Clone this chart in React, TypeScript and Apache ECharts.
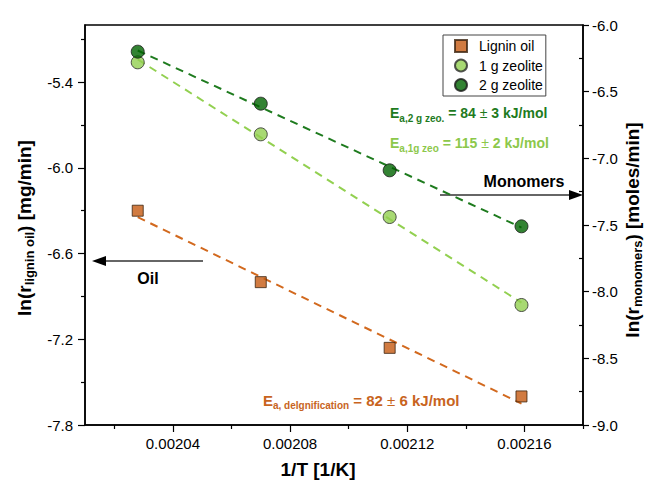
import React, { useEffect, useRef } from 'react';
import * as echarts from 'echarts';

// ---- data ----
const invT = [0.002028, 0.00207, 0.002114, 0.002159];
const ligninOil = [-6.3, -6.8, -7.26, -7.6];
const zeolite1g = [-6.28, -6.82, -7.44, -8.1];
const zeolite2g = [-6.2, -6.59, -7.09, -7.51];

const seriesNames = ['Lignin oil', '1 g zeolite', '2 g zeolite'];

const xMajorTicks = [0.00204, 0.00208, 0.00212, 0.00216];
const xMinorTicks = [0.00202, 0.00206, 0.0021, 0.00214, 0.00218];
const leftMajorTicks = [-7.8, -7.2, -6.6, -6.0, -5.4];
const leftMinorTicks = [-7.5, -6.9, -6.3, -5.7, -5.1];
const rightMajorTicks = [-9, -8.5, -8, -7.5, -7, -6.5, -6];
const rightMinorTicks = [-8.75, -8.25, -7.75, -7.25, -6.75, -6.25];

const FONT = 'Liberation Sans, Arial, sans-serif';

// least-squares fit line between first and last x
function fitLine(xs: number[], ys: number[]): number[][] {
  const n = xs.length;
  const mx = xs.reduce((a, b) => a + b, 0) / n;
  const my = ys.reduce((a, b) => a + b, 0) / n;
  let sxy = 0;
  let sxx = 0;
  for (let i = 0; i < n; i++) {
    sxy += (xs[i] - mx) * (ys[i] - my);
    sxx += (xs[i] - mx) * (xs[i] - mx);
  }
  const b = sxy / sxx;
  const a = my - b * mx;
  return [
    [xs[0], a + b * xs[0]],
    [xs[n - 1], a + b * xs[n - 1]],
  ];
}

const pairs = (ys: number[]) => invT.map((x, i) => [x, ys[i]]);

const axisLineStyle = { color: '#000', width: 1.5 };

function buildOption(): any {
  const mkX = (ticks: number[], main: boolean, len: number) => ({
    type: 'value',
    min: 0.00201,
    max: 0.00218,
    position: 'bottom',
    axisLine: { show: main, onZero: false, lineStyle: axisLineStyle },
    axisTick: { show: true, customValues: ticks, length: len, lineStyle: { color: '#000', width: 1.2 } },
    axisLabel: main
      ? {
          show: true,
          customValues: ticks,
          formatter: (v: number) => v.toFixed(5),
          fontSize: 15,
          fontFamily: FONT,
          color: '#000',
          margin: 11,
        }
      : { show: false },
    splitLine: { show: false },
  });
  const mkY = (
    pos: string,
    min: number,
    max: number,
    ticks: number[],
    main: boolean,
    len: number,
    inside: boolean,
    margin: number
  ) => ({
    type: 'value',
    position: pos,
    min,
    max,
    axisLine: { show: main, onZero: false, lineStyle: axisLineStyle },
    axisTick: { show: true, inside, customValues: ticks, length: len, lineStyle: { color: '#000', width: 1.2 } },
    axisLabel: main
      ? {
          show: true,
          customValues: ticks,
          formatter: (v: number) => v.toFixed(1),
          fontSize: 15,
          fontFamily: FONT,
          color: '#000',
          margin,
        }
      : { show: false },
    splitLine: { show: false },
  });

  const dash = [8, 6];

  const sub = (color: string, mainSize: number, subSize: number) => ({
    m: { fontSize: mainSize, fontWeight: 'bold', fontFamily: FONT, fill: color, lineHeight: 20, verticalAlign: 'middle' },
    s: { fontSize: subSize, fontWeight: 'bold', fontFamily: FONT, fill: color, lineHeight: 10, verticalAlign: 'bottom' },
    p: { fontSize: mainSize, fontWeight: 'normal', fontFamily: FONT, fill: color, lineHeight: 20, verticalAlign: 'middle' },
  });

  return {
    animation: false,
    backgroundColor: '#fff',
    grid: { left: 85, right: 66, top: 25, bottom: 61, show: true, borderColor: '#000', borderWidth: 1.5 },
    legend: {
      orient: 'vertical',
      left: 443,
      top: 35,
      data: [
        { name: seriesNames[0], icon: 'rect' },
        { name: seriesNames[1], icon: 'circle' },
        { name: seriesNames[2], icon: 'circle' },
      ],
      itemWidth: 12,
      itemHeight: 12,
      itemGap: 5.5,
      padding: [4, 3, 4, 11],
      borderColor: '#444',
      borderWidth: 1,
      backgroundColor: '#fff',
      textStyle: { fontSize: 14, fontFamily: FONT, color: '#000', padding: [0, 0, 0, 7] },
    },
    xAxis: [mkX(xMajorTicks, true, 7), mkX(xMinorTicks, false, 4)],
    yAxis: [
      mkY('left', -7.8, -5.0, leftMajorTicks, true, 7, false, 12),
      mkY('right', -9, -6, rightMajorTicks, true, 6, false, 9),
      mkY('left', -7.8, -5.0, leftMinorTicks, false, 4, false, 0),
      mkY('right', -9, -6, rightMinorTicks, false, 4, true, 0),
    ],
    series: [
      {
        type: 'line',
        name: 'fit lignin',
        xAxisIndex: 0,
        yAxisIndex: 0,
        data: fitLine(invT, ligninOil),
        showSymbol: false,
        silent: true,
        z: 1,
        lineStyle: { color: '#D2691E', width: 2, type: dash },
      },
      {
        type: 'line',
        name: 'fit 1g',
        xAxisIndex: 0,
        yAxisIndex: 1,
        data: fitLine(invT, zeolite1g),
        showSymbol: false,
        silent: true,
        z: 1,
        lineStyle: { color: '#92D050', width: 2, type: dash },
      },
      {
        type: 'line',
        name: 'fit 2g',
        xAxisIndex: 0,
        yAxisIndex: 1,
        data: fitLine(invT, zeolite2g),
        showSymbol: false,
        silent: true,
        z: 1,
        lineStyle: { color: '#1E7B1E', width: 2, type: dash },
      },
      {
        type: 'scatter',
        name: seriesNames[0],
        xAxisIndex: 0,
        yAxisIndex: 0,
        data: pairs(ligninOil),
        symbol: 'rect',
        symbolSize: 11,
        z: 3,
        itemStyle: { color: '#C55A11', borderColor: '#3b2410', borderWidth: 1 },
      },
      {
        type: 'scatter',
        name: seriesNames[1],
        xAxisIndex: 0,
        yAxisIndex: 1,
        data: pairs(zeolite1g),
        symbol: 'circle',
        symbolSize: 13,
        z: 3,
        itemStyle: { color: '#92D050', borderColor: '#2a2a2a', borderWidth: 1 },
      },
      {
        type: 'scatter',
        name: seriesNames[2],
        xAxisIndex: 0,
        yAxisIndex: 1,
        data: pairs(zeolite2g),
        symbol: 'circle',
        symbolSize: 13,
        z: 3,
        itemStyle: { color: '#006400', borderColor: '#1a1a1a', borderWidth: 1 },
      },
    ],
    graphic: [
      // axis titles
      {
        type: 'text',
        x: 318,
        y: 469,
        style: {
          text: '1/T [1/K]',
          fontSize: 19,
          fontWeight: 'bold',
          fontFamily: FONT,
          fill: '#000',
          align: 'center',
          verticalAlign: 'middle',
        },
      },
      {
        type: 'text',
        x: 24,
        y: 228,
        rotation: Math.PI / 2,
        style: {
          text: '{m|ln(r}{s|lignin oil}{m|) [mg/min]}',
          align: 'center',
          verticalAlign: 'middle',
          rich: {
            m: { fontSize: 19, fontWeight: 'bold', fontFamily: FONT, fill: '#000', lineHeight: 24, verticalAlign: 'middle' },
            s: { fontSize: 13, fontWeight: 'bold', fontFamily: FONT, fill: '#000', lineHeight: 13, verticalAlign: 'bottom' },
          },
        },
      },
      {
        type: 'text',
        x: 632,
        y: 230,
        rotation: Math.PI / 2,
        style: {
          text: '{m|ln(r}{s|monomers}{m|) [moles/min]}',
          align: 'center',
          verticalAlign: 'middle',
          rich: {
            m: { fontSize: 19, fontWeight: 'bold', fontFamily: FONT, fill: '#000', lineHeight: 24, verticalAlign: 'middle' },
            s: { fontSize: 13, fontWeight: 'bold', fontFamily: FONT, fill: '#000', lineHeight: 13, verticalAlign: 'bottom' },
          },
        },
      },
      // activation energy annotations
      {
        type: 'text',
        x: 390,
        y: 113,
        style: {
          text: '{m|E}{s|a,2 g zeo.}{m| = 84 }{p|±}{m| 3 kJ/mol}',
          align: 'left',
          verticalAlign: 'middle',
          rich: sub('#1E7B1E', 14, 10),
        },
      },
      {
        type: 'text',
        x: 390,
        y: 143,
        style: {
          text: '{m|E}{s|a,1g zeo}{m| = 115 }{p|±}{m| 2 kJ/mol}',
          align: 'left',
          verticalAlign: 'middle',
          rich: sub('#8CC84B', 14, 10),
        },
      },
      {
        type: 'text',
        x: 263,
        y: 400,
        style: {
          text: '{m|E}{s|a, delgnification}{m| = 82 }{p|±}{m| 6 kJ/mol}',
          align: 'left',
          verticalAlign: 'middle',
          rich: sub('#C8641E', 15, 10),
        },
      },
      // Oil arrow
      {
        type: 'line',
        shape: { x1: 203, y1: 261, x2: 100, y2: 261 },
        style: { stroke: '#333', lineWidth: 1.3 },
      },
      {
        type: 'polygon',
        shape: { points: [[92, 261], [106, 256], [106, 266]] },
        style: { fill: '#000' },
      },
      {
        type: 'text',
        x: 148,
        y: 278,
        style: {
          text: 'Oil',
          fontSize: 16,
          fontWeight: 'bold',
          fontFamily: FONT,
          fill: '#000',
          align: 'center',
          verticalAlign: 'middle',
        },
      },
      // Monomers arrow
      {
        type: 'line',
        shape: { x1: 440, y1: 195, x2: 572, y2: 195 },
        style: { stroke: '#333', lineWidth: 1.3 },
      },
      {
        type: 'polygon',
        shape: { points: [[583, 195], [569, 190], [569, 200]] },
        style: { fill: '#000' },
      },
      {
        type: 'text',
        x: 524,
        y: 181,
        style: {
          text: 'Monomers',
          fontSize: 16,
          fontWeight: 'bold',
          fontFamily: FONT,
          fill: '#000',
          align: 'center',
          verticalAlign: 'middle',
        },
      },
    ],
  };
}

export default function App() {
  const ref = useRef<HTMLDivElement>(null);
  useEffect(() => {
    if (!ref.current) return;
    const chart = echarts.init(ref.current, null, { renderer: 'svg' });
    chart.setOption(buildOption());
    return () => chart.dispose();
  }, []);
  return (
    <div
      ref={ref}
      style={{ position: 'absolute', left: 0, top: 0, width: 649, height: 486, background: '#fff' }}
    />
  );
}
